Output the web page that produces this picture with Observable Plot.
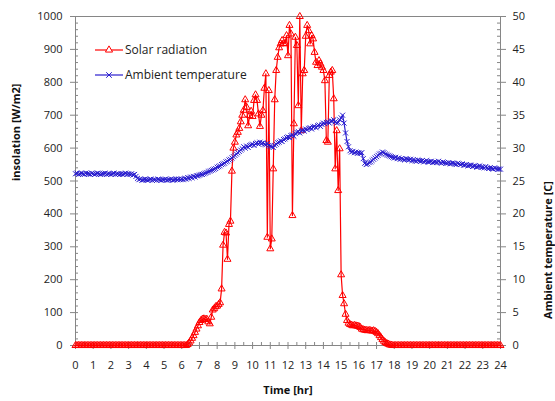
<!DOCTYPE html>
<html><head><meta charset="utf-8">
<script src="https://cdn.jsdelivr.net/npm/d3@7"></script>
<script src="https://cdn.jsdelivr.net/npm/@observablehq/plot@0.6"></script>
<style>
body{margin:0;background:#fff;font-family:"Open Sans",sans-serif}
#wrap{position:relative;width:555px;height:401px}
#legend{position:absolute;left:95px;top:37px;font-size:12px;color:#222;font-family:"Open Sans",sans-serif}
.row{display:flex;align-items:center;height:25px;white-space:nowrap}
.row svg{margin-right:2px}
</style></head><body><div id="wrap"><div id="legend"></div></div>
<script>
// sampling interval of the logger, in hours (5 minutes)
const stepHours = 5 / 60;

// Solar radiation [W/m2], one value every 5 minutes from 0:00 to 24:00
const solar = [
  0,0,0,0,0,0,0,0,0,0,0,0,            // 0h
  0,0,0,0,0,0,0,0,0,0,0,0,            // 1h
  0,0,0,0,0,0,0,0,0,0,0,0,            // 2h
  0,0,0,0,0,0,0,0,0,0,0,0,            // 3h
  0,0,0,0,0,0,0,0,0,0,0,0,            // 4h
  0,0,0,0,0,0,0,0,0,0,0,0,            // 5h
  0,0,0,0,3,8,14,22,30,40,50,60,      // 6h
  70,76,80,81,79,80,72,66,86,108,112,118,          // 7h
  120,125,130,172,305,344,342,262,368,378,530,600, // 8h
  618,640,648,660,680,700,715,747,724,668,699,712, // 9h
  696,745,762,745,704,666,700,714,782,826,329,775, // 10h
  294,324,537,747,836,876,905,917,927,917,918,942, // 11h
  881,973,947,395,674,937,912,729,1000,653,826,836,// 12h
  940,973,957,917,942,932,891,861,851,866,856,846, // 13h
  836,805,623,618,821,831,836,750,537,653,471,598, // 14h
  215,152,127,95,76,68,64,62,60,61,60,59,          // 15h
  58,55,50,48,47,46,45,46,45,44,45,43,             // 16h
  40,36,30,24,18,13,9,6,4,2,1,0,                   // 17h
  0,0,0,0,0,0,0,0,0,0,0,0,            // 18h
  0,0,0,0,0,0,0,0,0,0,0,0,            // 19h
  0,0,0,0,0,0,0,0,0,0,0,0,            // 20h
  0,0,0,0,0,0,0,0,0,0,0,0,            // 21h
  0,0,0,0,0,0,0,0,0,0,0,0,            // 22h
  0,0,0,0,0,0,0,0,0,0,0,0,            // 23h
  0                                   // 24h
];

// Ambient temperature [C], same timestamps
const temperature = [
  26.1,26.2,26.0,26.1,26.2,26.1,26.0,26.2,26.1,26.1,26.0,26.2, // 0h
  26.1,26.0,26.1,26.2,26.1,26.0,26.1,26.1,26.2,26.0,26.1,26.1, // 1h
  26.0,26.1,26.2,26.0,26.1,26.1,26.0,26.1,26.0,26.1,26.2,26.0, // 2h
  26.1,26.0,26.1,25.9,26.0,25.7,25.4,25.2,25.3,25.1,25.2,25.3, // 3h
  25.2,25.1,25.2,25.3,25.1,25.2,25.2,25.1,25.3,25.2,25.1,25.2, // 4h
  25.2,25.3,25.1,25.2,25.2,25.3,25.1,25.2,25.3,25.2,25.3,25.2, // 5h
  25.3,25.2,25.4,25.3,25.5,25.4,25.6,25.5,25.7,25.6,25.8,25.8, // 6h
  25.9,26.0,26.0,26.1,26.2,26.3,26.4,26.5,26.6,26.7,26.8,26.9, // 7h
  27.1,27.2,27.3,27.5,27.6,27.7,27.9,28.0,28.2,28.3,28.5,28.7, // 8h
  28.9,29.1,29.3,29.5,29.7,29.9,30.2,30.0,30.3,30.1,30.4,30.5, // 9h
  30.6,30.4,30.7,30.8,30.6,30.9,30.7,30.8,30.6,30.5,30.7,30.4, // 10h
  30.3,30.2,30.1,30.4,30.6,30.8,30.9,31.1,31.0,31.3,31.4,31.6, // 11h
  31.7,31.6,31.9,32.0,31.8,32.2,32.4,32.5,32.3,32.6,32.7,32.6, // 12h
  32.9,32.8,33.0,33.1,32.9,33.2,33.3,33.1,33.4,33.5,33.3,33.6, // 13h
  33.8,33.7,33.9,34.0,33.8,34.1,34.1,34.3,34.0,33.8,33.9,34.3, // 14h
  34.6,35.0,33.8,32.3,31.0,30.2,29.6,29.4,29.5,29.3,29.4,29.2, // 15h
  29.3,29.2,29.3,28.4,27.7,27.5,27.6,27.8,27.9,28.1,28.3,28.5, // 16h
  28.7,28.9,29.1,29.2,29.4,29.3,29.1,29.0,28.9,28.8,28.7,28.6, // 17h
  28.5,28.6,28.4,28.5,28.3,28.4,28.3,28.2,28.4,28.3,28.2,28.3, // 18h
  28.1,28.2,28.1,28.0,28.2,28.1,28.0,28.1,27.9,28.0,28.1,27.9, // 19h
  27.9,28.0,27.8,27.9,27.9,27.8,28.0,27.8,27.7,27.9,27.8,27.7, // 20h
  27.7,27.8,27.6,27.7,27.7,27.6,27.5,27.7,27.6,27.5,27.6,27.4, // 21h
  27.4,27.5,27.3,27.4,27.4,27.2,27.3,27.3,27.1,27.2,27.3,27.1, // 22h
  27.1,27.0,27.2,27.0,26.9,27.0,26.9,26.8,27.0,26.9,26.8,26.8, // 23h
  26.8                                                         // 24h
];

// Tick labels
const hourTicks = d3.range(0, 25, 1);
const insolationTicks = d3.range(0, 1001, 100);
const temperatureTicks = d3.range(0, 51, 5);

// secondary axis: 0–50 C shares the frame with 0–1000 W/m2
const tempToY = 1000 / 50;

const rows = solar.map((v, i) => ({hour: i * stepHours, solar: v, temp: temperature[i]}));

const SOLAR = "#ff0000", TEMP = "#2a1ecf", AXIS = "#868686";
const plotW = 555 - 75 - 55, plotH = 401 - 16 - 56;

const chart = Plot.plot({
  width: 555, height: 401,
  marginLeft: 75, marginRight: 55, marginTop: 16, marginBottom: 56,
  style: {fontFamily: "Open Sans, sans-serif", fontSize: "11px", color: "#222", background: "white", overflow: "visible"},
  x: {domain: [0, 24]},
  y: {domain: [0, 1000]},
  marks: [
    Plot.frame({stroke: AXIS}),
    // minor ticks pointing inward
    Plot.ruleX(d3.range(0, 24.01, 0.5), {x: d => d, insetTop: plotH - 3, stroke: AXIS}),
    Plot.ruleY(d3.range(0, 1001, 20), {y: d => d, insetRight: plotW - 3, stroke: AXIS}),
    Plot.ruleY(d3.range(0, 1001, 20), {y: d => d, insetLeft: plotW - 3, stroke: AXIS}),
    // axes
    Plot.axisX({ticks: hourTicks, tickSize: 4, tickPadding: 12, label: null, stroke: AXIS, tickFormat: d => String(d)}),
    Plot.axisY({anchor: "left", ticks: insolationTicks, tickSize: 5, tickPadding: 8, label: null, stroke: AXIS, tickFormat: d => String(d)}),
    Plot.axisY({anchor: "right", ticks: temperatureTicks.map(t => t * tempToY), tickSize: 5, tickPadding: 7, label: null, stroke: AXIS, tickFormat: d => String(d / tempToY)}),
    // axis titles
    Plot.text(["Time [hr]"], {frameAnchor: "bottom", dy: 48, fontWeight: "bold", fontSize: 11, fill: "#111"}),
    Plot.text(["insolation [W/m2]"], {frameAnchor: "left", rotate: -90, dx: -59, fontWeight: "bold", fontSize: 11, fill: "#111"}),
    Plot.text(["Ambient temperature [C]"], {frameAnchor: "right", rotate: -90, dx: 48, fontWeight: "bold", fontSize: 11, fill: "#111"}),
    // solar radiation
    Plot.line(rows, {x: "hour", y: "solar", stroke: SOLAR, strokeWidth: 1.2}),
    Plot.dot(rows, {x: "hour", y: "solar", symbol: "triangle", r: 2.6, stroke: SOLAR, strokeWidth: 1, fill: "none"}),
    // ambient temperature
    Plot.line(rows, {x: "hour", y: d => d.temp * tempToY, stroke: TEMP, strokeWidth: 1.2}),
    Plot.dot(rows, {x: "hour", y: d => d.temp * tempToY, symbol: "times", r: 2.4, stroke: TEMP, strokeWidth: 1})
  ]
});
document.getElementById("wrap").prepend(chart);

// legend (overlaid inside the plot area as in the original)
const legendItems = [
  {label: "Solar radiation", color: SOLAR, symbol: d3.symbolTriangle},
  {label: "Ambient temperature", color: TEMP, symbol: d3.symbolTimes}
];
const legend = d3.select("#legend");
legendItems.forEach(item => {
  const row = legend.append("div").attr("class", "row");
  const svg = row.append("svg").attr("width", 28).attr("height", 10);
  svg.append("line").attr("x1", 0).attr("x2", 28).attr("y1", 5).attr("y2", 5).attr("stroke", item.color).attr("stroke-width", 1.2);
  svg.append("path").attr("transform", "translate(14,5)").attr("d", d3.symbol(item.symbol, 22)()).attr("fill", "white").attr("stroke", item.color);
  row.append("span").text(item.label);
});
</script>
</body></html>
